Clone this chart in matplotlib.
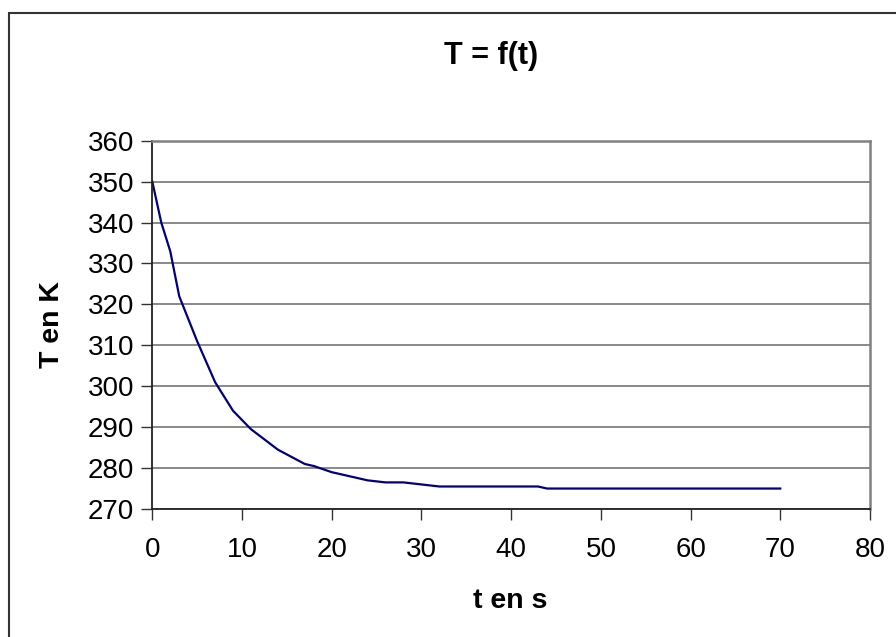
import matplotlib
matplotlib.use("Agg")
import matplotlib.pyplot as plt
from matplotlib.patches import Rectangle

t = [0, 1, 2, 3, 5, 7, 9, 11, 14, 17, 18, 20, 22, 24, 26, 28, 30, 32, 43, 44, 70]
T = [350, 340, 333, 322, 311, 301, 294, 289.5, 284.5, 281, 280.5, 279, 278, 277, 276.5, 276.5, 276, 275.5, 275.5, 275, 275]

title = "T = f(t)"
xlabel = "t en s"
ylabel = "T en K"
xticks = [0, 10, 20, 30, 40, 50, 60, 70, 80]
yticks = [270, 280, 290, 300, 310, 320, 330, 340, 350, 360]

plt.rcParams['font.family'] = ['Liberation Sans', 'DejaVu Sans']

W, H = 896, 637
fig = plt.figure(figsize=(W / 100, H / 100), dpi=100)
fig.patch.set_facecolor('white')

# outer frame (left and top visible)
fig.patches.append(Rectangle((9 / W, -0.2), 1.5, (624 / H) + 0.2, transform=fig.transFigure,
                             fill=False, edgecolor='#333333', linewidth=1.5, clip_on=False))

ax = fig.add_axes([152.3 / W, (H - 509) / H, (870 - 152.3) / W, (509 - 140.7) / H])
ax.plot(t, T, color='#000080', linewidth=1.6)

ax.set_xlim(0, 80)
ax.set_ylim(270, 360)
ax.set_xticks(xticks)
ax.set_yticks(yticks)
ax.tick_params(axis='both', labelsize=20, direction='out', length=8, width=1, color='#333333')
ax.tick_params(axis='x', pad=12)
ax.tick_params(axis='y', pad=5)
ax.yaxis.grid(True, color='#808080', linewidth=1.3)
ax.set_axisbelow(True)
for s in ['left', 'bottom']:
    ax.spines[s].set_color('#222222')
    ax.spines[s].set_linewidth(1.3)
for s in ['top', 'right']:
    ax.spines[s].set_color('#808080')
    ax.spines[s].set_linewidth(1.8)

fig.text(491 / W, 1 - 56 / H, title, ha='center', va='center', fontsize=22, fontweight='bold')
fig.text(510 / W, 1 - 601 / H, xlabel, ha='center', va='center', fontsize=20.5, fontweight='bold')
fig.text(52 / W, 1 - 325 / H, ylabel, ha='center', va='center', fontsize=20.5, fontweight='bold', rotation=90)

fig.savefig('out.png', dpi=100)
